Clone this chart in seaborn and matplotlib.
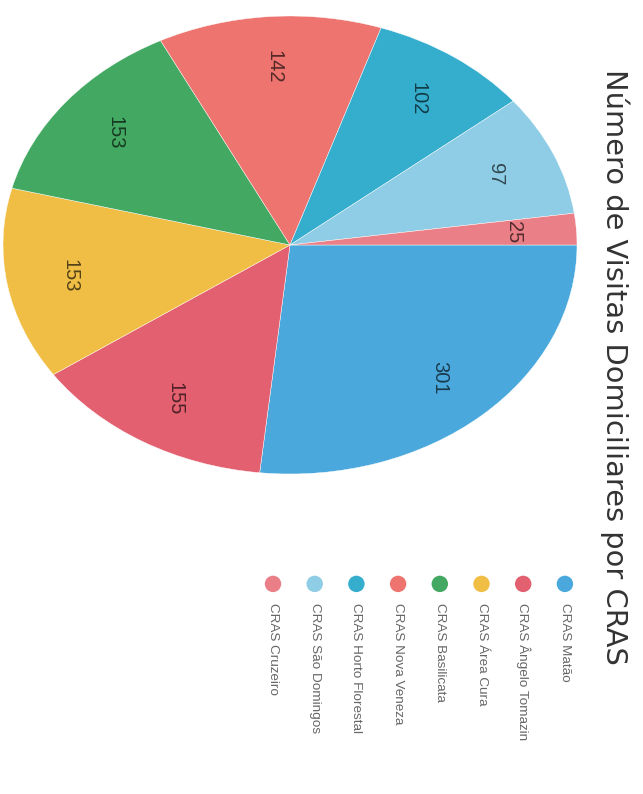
import numpy as np
import seaborn as sns
import matplotlib
matplotlib.use("Agg")
import matplotlib.pyplot as plt
from matplotlib.colors import to_rgb

# Data
cras_names = [
    "CRAS Matão",
    "CRAS Ângelo Tomazin",
    "CRAS Área Cura",
    "CRAS Basilicata",
    "CRAS Nova Veneza",
    "CRAS Horto Florestal",
    "CRAS São Domingos",
    "CRAS Cruzeiro",
]
visitas = [301, 155, 153, 153, 142, 102, 97, 25]
cores = [
    "#4aa8dc",
    "#e2606f",
    "#f1be45",
    "#43a862",
    "#ee746f",
    "#35aece",
    "#8fcde6",
    "#eb7f87",
]
titulo = "Número de Visitas Domiciliares por CRAS"

sns.set_theme(style="white")
palette = sns.color_palette(cores)
plt.rcParams["font.family"] = ["DejaVu Sans"]

small_font = ["Liberation Sans", "DejaVu Sans"]

fig = plt.figure(figsize=(6.43, 7.94), dpi=100)
fig.patch.set_facecolor("white")

# pie (whole chart is drawn turned 90 degrees clockwise)
ax = fig.add_axes([3 / 643, 1 - 474 / 794, 574 / 643, 458 / 794])
total = sum(visitas)
wedges, texts, autotexts = ax.pie(
    visitas,
    colors=palette,
    startangle=0,
    counterclock=False,
    radius=1,
    autopct=lambda p: f"{round(p * total / 100)}",
    pctdistance=0.78,
    wedgeprops=dict(edgecolor="white", linewidth=0.3),
    textprops=dict(family=small_font, fontsize=14.5),
)
for t, c in zip(autotexts, palette):
    rgb = np.array(to_rgb(c)) * 0.35
    t.set_color(rgb)
    t.set_rotation(-90)
ax.set_xlim(-1, 1)
ax.set_ylim(-1, 1)
ax.set_aspect("auto")
ax.axis("off")

# title
fig.text(
    615 / 643,
    1 - 367 / 794,
    titulo,
    rotation=-90,
    ha="center",
    va="center",
    fontsize=20.8,
    color="#333333",
)

# legend, one column per CRAS
n = len(cras_names)
step = 41.7
leg = fig.add_axes([(273 - step / 2) / 643, 0, n * step / 643, 220 / 794])
leg.set_xlim(n - 0.5, -0.5)
leg.set_ylim(1, 0)
leg.axis("off")
idx = np.arange(n)
leg.scatter(idx, np.full(n, 0.045), s=140, c=palette, edgecolors="none", clip_on=False)
for i, nome in enumerate(cras_names):
    leg.text(
        i,
        0.13,
        nome,
        rotation=-90,
        ha="center",
        va="top",
        fontsize=9.7,
        family=small_font,
        color="#666666",
    )

fig.savefig("out.png", dpi=100, facecolor="white")
